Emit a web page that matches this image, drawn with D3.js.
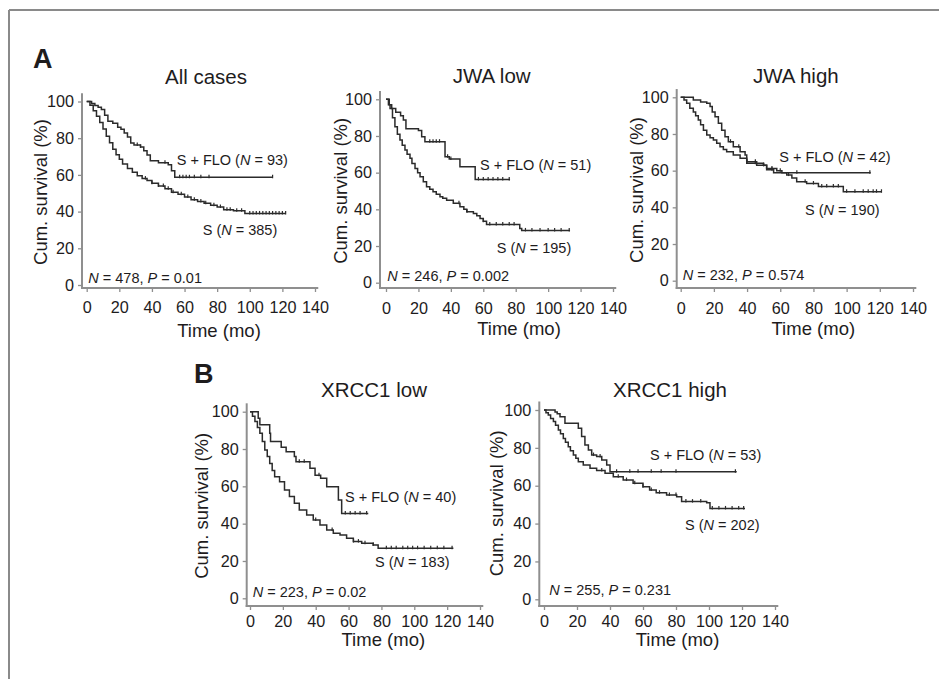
<!DOCTYPE html>
<html><head><meta charset="utf-8">
<script src="https://cdn.jsdelivr.net/npm/d3@7/dist/d3.min.js"></script>
<style>
html,body{margin:0;padding:0;background:#fff;}
svg{display:block;font-family:"Liberation Sans",Arial,sans-serif;}
</style></head>
<body>
<svg id="chart" width="939" height="679"></svg>
<script>
// ---------- DATA ----------
const xTicks = [0, 20, 40, 60, 80, 100, 120, 140];
const yTicks = [0, 20, 40, 60, 80, 100];
const panelTitles = ["All cases", "JWA low", "JWA high", "XRCC1 low", "XRCC1 high"];
const floN = [93, 51, 42, 40, 53];
const sN = [385, 195, 190, 183, 202];
const totalN = [478, 246, 232, 223, 255];
const pValues = ["0.01", "0.002", "0.574", "0.02", "0.231"];

// Kaplan–Meier steps [time (mo), cum. survival (%)]
const allFlo = [[0,100],[3,98.9],[5,97.8],[7,96.8],[9,95.7],[11,92.5],[13,89.2],[16,88.2],[19,86],[21,84.9],[23,82.8],[25,80.6],[27,77.4],[29,76.3],[33,75.2],[35,73.1],[37,70.9],[39,67.7],[44,66.6],[50,65.5],[52,62.3],[54,58.7],[114,58.7]];
const allS = [[0,100],[2,98],[4,95],[6,92],[8,88.5],[10,85],[12,81],[14,77.5],[16,74],[18,71],[20,68.5],[22,66],[25,63.5],[28,61.5],[31,59.5],[34,58],[37,57],[40,55.5],[44,54],[48,52.5],[52,50.5],[56,49.5],[60,48],[64,46.5],[68,45.5],[72,44.5],[76,43.5],[80,42.5],[84,41],[90,40.5],[97,39],[122,39]];
const jwaLowFlo = [[0,100],[2,97],[3.5,95],[6,93],[9,91],[10.7,88.7],[12.3,84],[20,83],[22,79.6],[24,76.9],[35.4,76.9],[36.4,68.7],[39,67.5],[45.6,63.2],[55,56.3],[76.5,56.3]];
const jwaLowS = [[0,100],[1.5,97],[2.5,95],[4,90],[5.5,85],[7,81],[8.6,77.8],[10,75],[11.7,72.3],[13,70],[14.8,67.8],[16,65],[17.9,62.3],[19.5,60],[21,57.8],[23,55],[25,52.3],[27,51],[29,49.6],[31,48.2],[33.3,46.9],[35,46],[37.4,45],[41.5,43.3],[45.6,41.4],[48,40],[49.8,38.7],[53.9,37.8],[56,36.5],[58,35],[60,33.5],[62,31.8],[80.6,31.8],[82.5,29.5],[83.7,28.5],[113.5,28.5]];
const jwaHighFlo = [[0,100],[7.6,98.5],[12,97.5],[15.7,96.7],[17.7,95],[19,92],[20.7,89.4],[22.7,85.8],[24.7,82],[26.7,78.5],[28.7,75.8],[31.7,73],[35.8,70.3],[38.8,68.5],[39.8,64],[49.8,63],[51.8,60.5],[56,58.9],[114.5,58.9]];
const jwaHighS = [[0,100],[2,98.5],[3.6,96.7],[5.5,94],[7.6,92],[9,90],[10.6,87.6],[12,85],[13.7,82],[15.7,79.4],[17.7,78],[19.7,76.7],[21.7,75],[23.7,73],[25.7,71.5],[27.7,70.3],[31.7,68.5],[35.8,66.7],[39.8,64.9],[45.8,63],[51.8,61.2],[57.9,60],[61,58.8],[63.9,57.6],[67,56],[69.9,54],[75.9,53],[83,51.3],[98,48.5],[121,48.5]];
const xrccLowFlo = [[0,100],[5,96.5],[6,93],[11,93],[12,88.4],[12.5,84],[18,84],[19,81],[22,78.6],[26,78.6],[27,76],[28,73.2],[35.5,73.2],[36.5,69.7],[39.6,66],[43,64.3],[46.7,59.8],[52.7,59.8],[53.8,52.7],[55.8,45.5],[72,45.5]];
const xrccLowS = [[0,100],[1.5,97.5],[3,94.7],[4.5,91.5],[6,88.4],[7.5,84],[9,79.5],[10.5,76],[12,72.3],[13.5,68.5],[15,65.2],[18,62.5],[21,58],[24,54.5],[27,51],[30,47.3],[34.5,44.7],[38.5,42],[42.6,39.3],[46.7,36.6],[50.7,34.8],[54.8,33.9],[58.8,32.2],[62.9,30.4],[68,29.5],[75,28.6],[78,26.8],[123.8,26.8]];
const xrccHighFlo = [[0,100],[6.7,99],[8,98],[9.7,96.5],[12.7,93],[19.8,93],[20.8,90.3],[22.8,86],[24.8,81.5],[26.9,78.9],[28.9,76.2],[31.9,75.4],[35,73.6],[38,71],[40,67.4],[116.8,67.4]];
const xrccHighS = [[0,100],[1.2,98.5],[2.6,97.4],[4,95.5],[5.7,93.9],[7,92],[8.7,89.5],[10,87.5],[11.7,85],[13,83],[14.7,80.6],[16,78.5],[17.8,76.2],[19.3,74.5],[20.8,72.7],[23.8,71],[27.9,69.2],[31.9,68],[37,66.6],[42,64.8],[48,63],[54,61.3],[60,59.5],[64,57.8],[68,56.3],[74.3,55.1],[80.4,54.2],[83.4,51.6],[98.6,51],[100.6,48],[121.8,48]];

// censored observations (time, mo)
const allFloCens = [31,33,48,57,59,61,63,66,70,75,114];
const allSCens = [36,40,44,47,50,53,58,62,66,70,73,78,82,86,88,92,95,100,102,104,106,108,110,112,114,116,118,120,122];
const jwaLowFloCens = [27,29,31,33,38,40,57,60,63,66,69,72,76];
const jwaLowSCens = [45,50,60,64,68,72,76,79,86,90,95,100,104,108,113];
const jwaHighFloCens = [30,35,45,50,55,70,114];
const jwaHighSCens = [40,45,50,55,60,65,75,80,85,88,92,95,100,105,110,113,116,118,121];
const xrccLowFloCens = [30,33,42,58,61,64,67,71];
const xrccLowSCens = [40,50,63,66,70,75,83,86,89,93,96,99,102,106,110,114,118,123];
const xrccHighFloCens = [30,34,44,52,57,65,71,80,116];
const xrccHighSCens = [35,45,50,55,60,65,70,76,80,86,90,95,102,106,110,114,118,121];

const floCurves = [allFlo, jwaLowFlo, jwaHighFlo, xrccLowFlo, xrccHighFlo];
const sCurves = [allS, jwaLowS, jwaHighS, xrccLowS, xrccHighS];
const floCens = [allFloCens, jwaLowFloCens, jwaHighFloCens, xrccLowFloCens, xrccHighFloCens];
const sCens = [allSCens, jwaLowSCens, jwaHighSCens, xrccLowSCens, xrccHighSCens];

// ---------- LAYOUT ----------
const layout = [
  {x0:86.7, x1:315, y0:285, y1:101.5, ax:82, ay:288, tpad:9,
   title:[206,84], leg1:[176.7,165], leg2:[202.7,235], ann:[88.3,283], yl:[47.3,192], xl:[219,336.7]},
  {x0:386, x1:613, y0:282.7, y1:99.3, ax:380, ay:288, tpad:10,
   title:[491.7,83.3], leg1:[480,170], leg2:[496.7,253.3], ann:[387.3,280.5], yl:[346.7,190.8], xl:[519,335]},
  {x0:680.7, x1:913, y0:280.7, y1:97.3, ax:676.7, ay:288, tpad:10,
   title:[795.8,83.3], leg1:[779.3,161.7], leg2:[805,215], ann:[682.7,280], yl:[642.7,190], xl:[813.3,335]},
  {x0:250, x1:480, y0:598.3, y1:411.7, ax:246.7, ay:606, tpad:5,
   title:[374,396.7], leg1:[345,501.7], leg2:[375,566.7], ann:[252.7,596.5], yl:[208.3,505.8], xl:[383.3,646]},
  {x0:544, x1:775, y0:599.3, y1:410, ax:539.3, ay:606, tpad:5,
   title:[670,396.7], leg1:[650,460], leg2:[685,530], ann:[549.3,595], yl:[502.7,503.3], xl:[677.5,646]}
];

const TEXT = "#1e1c1d", AXIS = "#8f8f8f", CURVE = "#2b2b2b";
const svg = d3.select("#chart");

// frame
svg.append("line").attr("x1",9).attr("y1",10).attr("x2",939).attr("y2",10)
  .attr("stroke","#8a8a8a").attr("stroke-width",2);
svg.append("line").attr("x1",9).attr("y1",10).attr("x2",9).attr("y2",679)
  .attr("stroke","#8a8a8a").attr("stroke-width",2);

// panel letters
svg.append("text").attr("x",33).attr("y",68).attr("font-size",27).attr("font-weight","bold")
  .attr("fill",TEXT).text("A");
svg.append("text").attr("x",194).attr("y",383).attr("font-size",27).attr("font-weight","bold")
  .attr("fill",TEXT).text("B");

function stepValue(curve, t){
  let v = curve[0][1];
  for (const d of curve){ if (d[0] <= t) v = d[1]; else break; }
  return v;
}

layout.forEach((L, i) => {
  const g = svg.append("g");
  const x = d3.scaleLinear().domain([0,140]).range([L.x0, L.x1]);
  const y = d3.scaleLinear().domain([0,100]).range([L.y0, L.y1]);

  // axis lines
  g.append("line").attr("x1",L.ax).attr("x2",L.ax).attr("y1",y(104.5)).attr("y2",L.ay+1)
    .attr("stroke",AXIS).attr("stroke-width",2);
  g.append("line").attr("x1",L.ax-1).attr("x2",x(142)).attr("y1",L.ay).attr("y2",L.ay)
    .attr("stroke",AXIS).attr("stroke-width",2);

  const ya = g.append("g").attr("transform",`translate(${L.ax},0)`)
    .call(d3.axisLeft(y).tickValues(yTicks).tickSize(4).tickPadding(4));
  ya.select(".domain").remove();
  ya.selectAll("line").attr("stroke",AXIS).attr("stroke-width",1.3);
  ya.selectAll("text").attr("font-size",16.2).attr("fill",TEXT)
    .attr("font-family","'Liberation Sans',Arial,sans-serif");

  const xa = g.append("g").attr("transform",`translate(0,${L.ay})`)
    .call(d3.axisBottom(x).tickValues(xTicks).tickSize(4).tickPadding(L.tpad));
  xa.select(".domain").remove();
  xa.selectAll("line").attr("stroke",AXIS).attr("stroke-width",1.3);
  xa.selectAll("text").attr("font-size",16.2).attr("fill",TEXT)
    .attr("font-family","'Liberation Sans',Arial,sans-serif");

  // curves
  const line = d3.line().x(d => x(d[0])).y(d => y(d[1])).curve(d3.curveStepAfter);
  [[sCurves[i], sCens[i]], [floCurves[i], floCens[i]]].forEach(([curve, cens]) => {
    g.append("path").datum(curve).attr("d", line).attr("fill","none")
      .attr("stroke",CURVE).attr("stroke-width",1.5);
    g.selectAll(null).data(cens).enter().append("line")
      .attr("x1", t => x(t)).attr("x2", t => x(t))
      .attr("y1", t => y(stepValue(curve,t)) - 2.5)
      .attr("y2", t => y(stepValue(curve,t)) + 1)
      .attr("stroke",CURVE).attr("stroke-width",1.2);
  });

  // texts
  g.append("text").attr("x",L.title[0]).attr("y",L.title[1]).attr("text-anchor","middle")
    .attr("font-size",20.5).attr("fill",TEXT).text(panelTitles[i]);

  const l1 = g.append("text").attr("x",L.leg1[0]).attr("y",L.leg1[1]).attr("font-size",14.5).attr("fill",TEXT);
  l1.append("tspan").text("S + FLO (");
  l1.append("tspan").attr("font-style","italic").text("N");
  l1.append("tspan").text(" = " + floN[i] + ")");

  const l2 = g.append("text").attr("x",L.leg2[0]).attr("y",L.leg2[1]).attr("font-size",14.5).attr("fill",TEXT);
  l2.append("tspan").text("S (");
  l2.append("tspan").attr("font-style","italic").text("N");
  l2.append("tspan").text(" = " + sN[i] + ")");

  const an = g.append("text").attr("x",L.ann[0]).attr("y",L.ann[1]).attr("font-size",14.5).attr("fill",TEXT);
  an.append("tspan").attr("font-style","italic").text("N");
  an.append("tspan").text(" = " + totalN[i] + ", ");
  an.append("tspan").attr("font-style","italic").text("P");
  an.append("tspan").text(" = " + pValues[i]);

  g.append("text").attr("transform",`translate(${L.yl[0]},${L.yl[1]}) rotate(-90)`)
    .attr("text-anchor","middle").attr("font-size",18.5).attr("fill",TEXT).text("Cum. survival (%)");
  g.append("text").attr("x",L.xl[0]).attr("y",L.xl[1]).attr("text-anchor","middle")
    .attr("font-size",18.5).attr("fill",TEXT).text("Time (mo)");
});
</script>
</body></html>
